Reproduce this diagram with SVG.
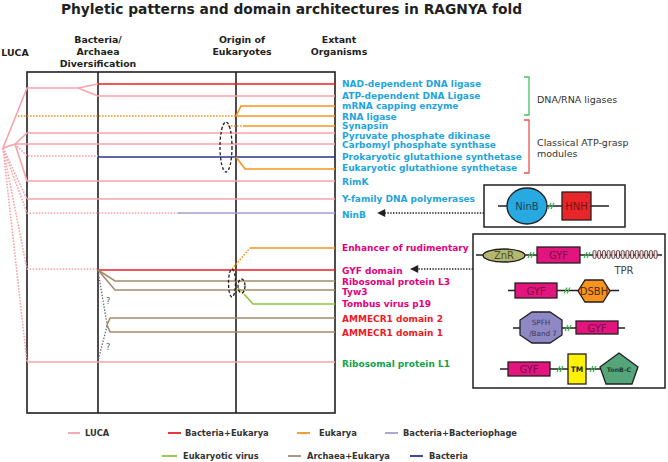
<svg xmlns="http://www.w3.org/2000/svg" width="668" height="462" viewBox="0 0 668 462">
<defs>
<style>
.t{font-family:"DejaVu Sans","Verdana",sans-serif;}
.b{font-weight:bold;}
.hd{font-family:"DejaVu Sans",sans-serif;font-weight:bold;font-size:9.4px;fill:#231f20;text-anchor:middle;}
.lb{font-family:"DejaVu Sans",sans-serif;font-weight:bold;font-size:9px;}
.cy{fill:#1ea5e0;}
.mg{fill:#e6007e;}
.rd{fill:#ed1c24;}
.gn{fill:#12a24a;}
.lg{font-family:"DejaVu Sans",sans-serif;font-weight:bold;font-size:8.3px;fill:#333;}
.ln{fill:none;stroke-width:1.6;}
.pk{stroke:#f8a2a9;}
.dot{stroke-dasharray:1.6 1.4;}
.re{stroke:#ed1c24;}
.or{stroke:#f7941d;}
.bl{stroke:#2e3192;}
.lv{stroke:#a39fd2;}
.br{stroke:#a68b6e;}
.vg{stroke:#8dc63f;}
.fr{fill:none;stroke:#231f20;stroke-width:1.6;}
.el{fill:none;stroke:#231f20;stroke-width:1.3;stroke-dasharray:3 2;}
.bx{fill:none;stroke:#231f20;stroke-width:1.5;}
.bb{stroke:#231f20;stroke-width:1.3;}
.brk{stroke:#39b54a;stroke-width:1.2;fill:none;}
.dm{font-family:"DejaVu Sans",sans-serif;font-size:10px;text-anchor:middle;}
</style>
<marker id="ah" viewBox="0 0 10 10" refX="9" refY="5" markerWidth="10" markerHeight="8" markerUnits="userSpaceOnUse" orient="auto">
<path d="M0,0 L10,5 L0,10 Z" fill="#231f20"/>
</marker>
</defs>
<rect width="668" height="462" fill="#fff"/>

<text class="t b" x="291.5" y="14" font-size="13.8" fill="#231f20" text-anchor="middle">Phyletic patterns and domain architectures in RAGNYA fold</text>

<g id="headers">
<text class="hd" x="15" y="56">LUCA</text>
<text class="hd" x="98" y="43">Bacteria/</text>
<text class="hd" x="98" y="55">Archaea</text>
<text class="hd" x="98" y="67">Diversification</text>
<text class="hd" x="242" y="43">Origin of</text>
<text class="hd" x="242" y="55">Eukaryotes</text>
<text class="hd" x="339" y="43">Extant</text>
<text class="hd" x="339" y="55">Organisms</text>
</g>

<g id="frame">
<rect class="fr" x="27" y="72" width="308" height="341"/>
<line class="fr" x1="98" y1="72" x2="98" y2="413"/>
<line class="fr" x1="236" y1="72" x2="236" y2="413"/>
</g>

<g id="connectors">
<polyline class="ln pk" points="3,148 27,88 78,88 98,84"/>
<polyline class="ln pk" points="78,88 98,96 335,96"/>
<line class="ln re" x1="98" y1="84" x2="335" y2="84"/>
<polyline class="ln pk" points="3,148 15,144 27,133 335,133"/>
<polyline class="ln pk" points="15,144 335,144"/>
<polyline class="ln pk dot" points="15,144 27,156 98,156"/>
<line class="ln bl" x1="98" y1="157" x2="335" y2="157"/>
<polyline class="ln or" points="236,157 245,169 335,169"/>
<polyline class="ln pk" points="15,144 27,181 335,181"/>
<line class="ln or dot" x1="18" y1="116" x2="236" y2="116"/>
<line class="ln or" x1="236" y1="116" x2="335" y2="116"/>
<polyline class="ln or" points="236,116 241,106 335,106"/>
<line class="ln or dot" x1="228" y1="126" x2="243" y2="126"/>
<line class="ln or" x1="243" y1="126" x2="335" y2="126"/>
<polyline class="ln pk dot" points="3,148 27,199"/>
<line class="ln pk" x1="27" y1="199" x2="335" y2="199"/>
<polyline class="ln pk dot" points="3,148 27,213 178,213"/>
<line class="ln lv" x1="178" y1="213" x2="335" y2="213"/>
<polyline class="ln pk dot" points="3,148 27,269 98,269"/>
<polyline class="ln pk dot" points="3,148 27,362"/>
<line class="ln pk" x1="27" y1="362" x2="335" y2="362"/>
<line class="ln re" x1="98" y1="270" x2="335" y2="270"/>
<polyline class="ln or dot" points="232,269 250,248"/>
<line class="ln or" x1="250" y1="248" x2="335" y2="248"/>
<polyline class="ln br" points="98,270 115,281 335,281"/>
<polyline class="ln br" points="98,270 115,290 335,290"/>
<polyline class="ln vg dot" points="238,288 244,294"/>
<polyline class="ln vg" points="244,294 253,304 335,304"/>
<polyline class="ln br" points="335,318 110,318 107,325 110,332 335,332"/>
<polyline fill="none" stroke="#666" stroke-width="1.3" stroke-dasharray="1.4 1.6" points="98,271 107,324"/>
<polyline fill="none" stroke="#666" stroke-width="1.3" stroke-dasharray="1.4 1.6" points="107,326 98,361"/>
<text class="t" x="108" y="304" font-size="8" fill="#555" text-anchor="middle">?</text>
<text class="t" x="108" y="350" font-size="8" fill="#555" text-anchor="middle">?</text>
<ellipse class="el" cx="226" cy="147" rx="6" ry="25"/>
<ellipse class="el" cx="232" cy="283" rx="3.5" ry="14"/>
<ellipse class="el" cx="241.5" cy="286" rx="3.5" ry="7"/>
<line x1="484" y1="213" x2="378" y2="213" stroke="#231f20" stroke-width="1.3" stroke-dasharray="1.4 1.4" marker-end="url(#ah)"/>
<line x1="473" y1="269" x2="411" y2="269" stroke="#231f20" stroke-width="1.3" stroke-dasharray="1.4 1.4" marker-end="url(#ah)"/>
</g>

<g id="labels">
<text class="lb cy" x="342" y="87">NAD-dependent DNA ligase</text>
<text class="lb cy" x="342" y="98.5">ATP-dependent DNA Ligase</text>
<text class="lb cy" x="342" y="108.5">mRNA capping enzyme</text>
<text class="lb cy" x="342" y="119.5">RNA ligase</text>
<text class="lb cy" x="342" y="129">Synapsin</text>
<text class="lb cy" x="342" y="138.5">Pyruvate phosphate dikinase</text>
<text class="lb cy" x="342" y="148">Carbomyl phosphate synthase</text>
<text class="lb cy" x="342" y="160">Prokaryotic glutathione synthetase</text>
<text class="lb cy" x="342" y="171">Eukaryotic glutathione synthetase</text>
<text class="lb cy" x="342" y="185">RimK</text>
<text class="lb cy" x="342" y="202">Y-family DNA polymerases</text>
<text class="lb cy" x="342" y="218">NinB</text>
<text class="lb mg" x="342" y="251">Enhancer of rudimentary</text>
<text class="lb mg" x="342" y="274">GYF domain</text>
<text class="lb mg" x="342" y="284.5">Ribosomal protein L3</text>
<text class="lb mg" x="342" y="294.5">Tyw3</text>
<text class="lb mg" x="342" y="307">Tombus virus p19</text>
<text class="lb rd" x="342" y="322">AMMECR1 domain 2</text>
<text class="lb rd" x="342" y="336">AMMECR1 domain 1</text>
<text class="lb gn" x="342" y="367">Ribosomal protein L1</text>
</g>

<g id="groups">
<polyline points="524,77 529,77 529,115 524,115" fill="none" stroke="#4dba6a" stroke-width="1.3"/>
<polyline points="524,120 529,120 529,173 524,173" fill="none" stroke="#ef5350" stroke-width="1.3"/>
<text class="t" x="537" y="103" font-size="9.5" fill="#333">DNA/RNA ligases</text>
<text class="t" x="537" y="146" font-size="9.5" fill="#333">Classical ATP-grasp</text>
<text class="t" x="537" y="157" font-size="9.5" fill="#333">modules</text>
</g>

<g id="ninb-box">
<rect class="bx" x="484" y="185" width="141" height="42"/>
<line class="bb" x1="498" y1="206" x2="609" y2="206"/>
<ellipse cx="527" cy="206" rx="20" ry="18" fill="#27a9e1" class="bb"/>
<text class="dm" x="527" y="209.5" fill="#1d3f5c">NinB</text>
<path class="brk" d="M548,209 L551,203 M551,209 L554,203"/>
<rect x="562" y="192" width="29" height="28" fill="#e8262a" class="bb"/>
<text class="dm" x="576.5" y="209.5" fill="#7a1010">HNH</text>
</g>

<g id="gyf-box">
<rect class="bx" x="473" y="234" width="192" height="154"/>
<line class="bb" x1="476" y1="255" x2="662" y2="255"/>
<ellipse cx="504" cy="255.5" rx="21" ry="6.5" fill="#b2b96e" class="bb"/>
<text class="dm" x="504" y="259" fill="#4a4a2a">ZnR</text>
<path class="brk" d="M528,258 L531,252 M531,258 L534,252"/>
<rect x="537" y="247" width="43" height="16" fill="#e2157f" class="bb"/>
<text class="dm" x="558.5" y="259" fill="#7a0a45">GYF</text>
<path class="brk" d="M584,258 L587,252 M587,258 L590,252"/>
<g fill="#f2e4e4" stroke="#5a3535" stroke-width="0.9">
<rect x="593" y="250.5" width="3" height="8" rx="1.4"/>
<rect x="597.7" y="250.5" width="3" height="8" rx="1.4"/>
<rect x="602.4" y="250.5" width="3" height="8" rx="1.4"/>
<rect x="607.1" y="250.5" width="3" height="8" rx="1.4"/>
<rect x="611.8" y="250.5" width="3" height="8" rx="1.4"/>
<rect x="616.5" y="250.5" width="3" height="8" rx="1.4"/>
<rect x="621.2" y="250.5" width="3" height="8" rx="1.4"/>
<rect x="625.9" y="250.5" width="3" height="8" rx="1.4"/>
<rect x="630.6" y="250.5" width="3" height="8" rx="1.4"/>
<rect x="635.3" y="250.5" width="3" height="8" rx="1.4"/>
<rect x="640" y="250.5" width="3" height="8" rx="1.4"/>
<rect x="644.7" y="250.5" width="3" height="8" rx="1.4"/>
<rect x="649.4" y="250.5" width="3" height="8" rx="1.4"/>
<rect x="654.1" y="250.5" width="3" height="8" rx="1.4"/>
</g>
<text class="dm" x="624" y="274" fill="#444">TPR</text>
<line class="bb" x1="508" y1="290.5" x2="619" y2="290.5"/>
<rect x="515" y="283" width="42" height="15" fill="#e2157f" class="bb"/>
<text class="dm" x="536" y="294.5" fill="#7a0a45">GYF</text>
<path class="brk" d="M564,293.5 L567,287.5 M567,293.5 L570,287.5"/>
<polygon points="585,280 603,280 610,291 603,302 585,302 578,291" fill="#f7941d" class="bb"/>
<text class="dm" x="594" y="294.5" fill="#4a2a0a">DSBH</text>
<line class="bb" x1="513" y1="328" x2="625" y2="328"/>
<polygon points="532,312 550,312 562,320 562,335 550,343 532,343 520,335 520,320" fill="#8e89c4" class="bb"/>
<text class="t" x="541" y="325" font-size="7.2" fill="#3a3560" text-anchor="middle">SPFH</text>
<text class="t" x="543" y="336" font-size="7.2" fill="#3a3560" text-anchor="middle">/Band 7</text>
<path class="brk" d="M565,331 L568,325 M568,331 L571,325"/>
<rect x="576" y="321" width="42" height="13" fill="#e2157f" class="bb"/>
<text class="dm" x="597" y="331.5" fill="#7a0a45">GYF</text>
<line class="bb" x1="500" y1="369" x2="638" y2="369"/>
<rect x="508" y="362" width="42" height="14" fill="#e2157f" class="bb"/>
<text class="dm" x="529" y="372.5" fill="#7a0a45">GYF</text>
<path class="brk" d="M557,372 L560,366 M560,372 L563,366"/>
<rect x="568" y="354" width="18" height="30" fill="#fff200" class="bb"/>
<text class="t b" x="577" y="372" font-size="7.5" fill="#231f20" text-anchor="middle">TM</text>
<path class="brk" d="M590,372 L593,366 M593,372 L596,366"/>
<polygon points="619,353 638,367 632,384 606,384 600,367" fill="#55a57a" class="bb"/>
<text class="t b" x="619" y="372" font-size="6.3" fill="#1e3a2a" text-anchor="middle">TonB-C</text>
</g>

<g id="legend">
<line x1="68" y1="433" x2="80" y2="433" stroke="#f8a2a9" stroke-width="1.8"/>
<text class="lg" x="85" y="436">LUCA</text>
<line x1="168" y1="433" x2="181" y2="433" stroke="#ed1c24" stroke-width="1.8"/>
<text class="lg" x="185" y="436">Bacteria+Eukarya</text>
<line x1="297" y1="433" x2="310" y2="433" stroke="#f7941d" stroke-width="1.8"/>
<text class="lg" x="319" y="436">Eukarya</text>
<line x1="385" y1="433" x2="398" y2="433" stroke="#a39fd2" stroke-width="1.8"/>
<text class="lg" x="403" y="436">Bacteria+Bacteriophage</text>
<line x1="162" y1="456" x2="177" y2="456" stroke="#8dc63f" stroke-width="1.8"/>
<text class="lg" x="183" y="459">Eukaryotic virus</text>
<line x1="288" y1="456" x2="301" y2="456" stroke="#a68b6e" stroke-width="1.8"/>
<text class="lg" x="307" y="459">Archaea+Eukarya</text>
<line x1="410" y1="456" x2="423" y2="456" stroke="#2e3192" stroke-width="1.8"/>
<text class="lg" x="429" y="459">Bacteria</text>
</g>
</svg>
